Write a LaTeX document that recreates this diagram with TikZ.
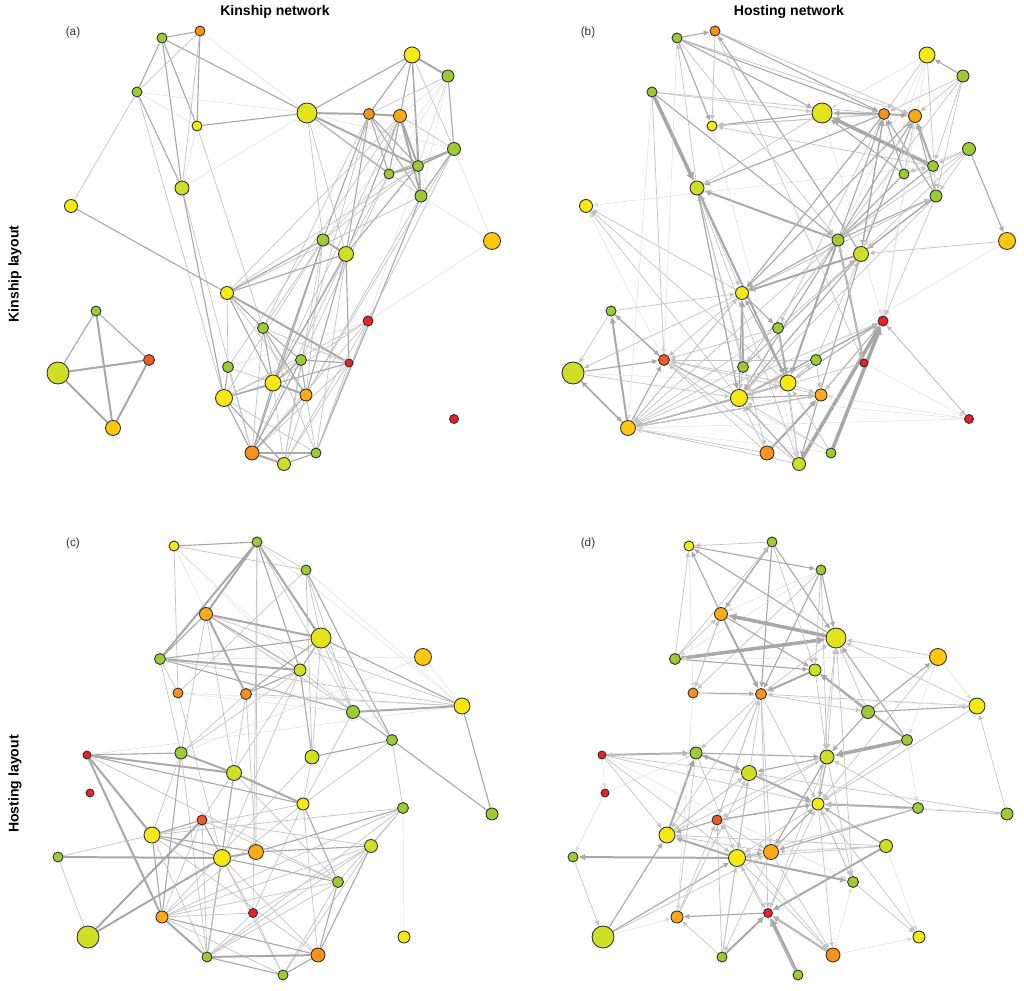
\documentclass[tikz,border=0pt]{standalone}
\usepackage{fontspec}
\setmainfont{Liberation Sans}
\usetikzlibrary{arrows.meta}
\pgfdeclarelayer{edges}
\pgfsetlayers{edges,main}

\definecolor{cGreen}{RGB}{155,204,52}
\definecolor{cLime}{RGB}{208,222,38}
\definecolor{cLimeY}{RGB}{226,228,28}
\definecolor{cYellow}{RGB}{246,232,20}
\definecolor{cGold}{RGB}{255,199,12}
\definecolor{cAmber}{RGB}{250,170,24}
\definecolor{cOrange}{RGB}{246,146,30}
\definecolor{cRedOr}{RGB}{240,90,36}
\definecolor{cRed}{RGB}{236,32,38}
\definecolor{cEdge}{RGB}{168,168,168}

% node lists: name/x/y/colour/radius (pixels)
\newcommand\kinlayout{1/162/38/cGreen/5, 2/200/31/cOrange/5, 3/137/92/cGreen/5,
  4/197/126/cYellow/5, 5/307/113/cLimeY/10, 6/369/114/cOrange/5.5, 7/400/116/cAmber/6.5,
  8/412/55/cYellow/8, 9/448/76/cGreen/6, 10/454/149/cGreen/6.5, 11/418/166/cGreen/5.5,
  12/389/174/cGreen/5, 13/421/196/cGreen/6, 14/182/188/cLime/7, 15/71/206/cYellow/6.5,
  16/492/241/cGold/8.5, 17/323/240/cGreen/6, 18/346/254/cLime/7.5, 19/227/293/cYellow/6.5,
  20/96/311/cGreen/5, 21/368/321/cRed/5, 22/263/328/cGreen/5.5, 23/149/360/cRedOr/5.5,
  24/58/373/cLime/11, 25/228/367/cGreen/5.5, 26/301/360/cGreen/5.5, 27/349/363/cRed/4,
  28/273/383/cYellow/8, 29/224/398/cYellow/8.5, 30/306/395/cAmber/6, 31/113/428/cGold/7.5,
  32/454/419/cRed/4.5, 33/252/453/cOrange/7, 34/284/464/cLime/6.5, 35/316/453/cGreen/5}
\newcommand\hostlayout{1/174/546/cYellow/5, 2/257/542/cGreen/5, 3/306/570/cGreen/5,
  4/206/614/cAmber/6.5, 5/321/638/cLimeY/10, 6/423/657/cGold/8.5, 7/160/659/cGreen/5.5,
  8/300/670/cLime/6, 9/178/693/cOrange/5, 10/246/694/cOrange/5.5, 11/353/712/cGreen/6.5,
  12/462/706/cYellow/8, 13/392/740/cGreen/5.5, 14/87/755/cRed/4, 15/181/753/cGreen/6,
  16/312/757/cLime/7, 17/234/773/cLime/7.5, 18/90/793/cRed/4, 19/303/804/cYellow/6,
  20/403/808/cGreen/5.5, 21/492/814/cGreen/6, 22/202/820/cRedOr/5, 23/152/835/cYellow/8,
  24/371/846/cLime/6.5, 25/256/852/cAmber/7.5, 26/222/858/cYellow/8.5, 27/58/857/cGreen/5,
  28/338/882/cGreen/5.5, 29/162/917/cAmber/6, 30/253/913/cRed/4.5, 31/88/937/cLime/11,
  32/404/937/cYellow/6, 33/207/957/cGreen/5, 34/318/955/cOrange/7, 35/283/975/cGreen/5}

% edge lists: from/to/weight
\newcommand\kinonkin{1/2/2, 1/3/2, 1/4/2, 1/14/2, 1/5/2, 2/3/1, 2/4/2, 2/5/0, 2/14/1, 3/4/0,
  3/5/0, 3/14/2, 3/15/1, 4/5/2, 4/14/0, 4/22/1, 14/5/0, 14/29/2, 14/33/1, 15/19/2, 5/6/3,
  6/7/3, 5/8/2, 5/11/3, 5/12/2, 5/17/1, 5/18/1, 5/13/1, 5/10/0, 8/9/3, 8/6/2, 8/7/2, 8/11/2,
  8/13/2, 8/10/1, 9/10/2, 9/6/1, 9/7/0, 9/12/0, 9/11/0, 9/13/0, 9/17/0, 7/11/3, 7/13/3,
  7/12/2, 7/10/1, 6/11/2, 6/13/2, 6/12/2, 10/11/3, 10/12/2, 10/16/0, 10/13/2, 11/12/3,
  11/13/2, 13/16/0, 6/17/2, 6/18/2, 6/22/1, 6/26/1, 7/18/2, 7/19/1, 7/25/1, 7/28/1, 11/17/1,
  11/18/2, 11/19/1, 12/17/1, 12/26/1, 12/28/1, 13/19/1, 13/35/2, 13/30/1, 10/21/1, 10/30/1,
  9/21/0, 16/21/0, 17/18/3, 17/19/2, 17/22/1, 17/28/2, 17/29/1, 17/33/2, 17/34/1, 17/30/1,
  18/19/2, 18/27/2, 18/28/2, 18/30/2, 18/33/1, 18/35/1, 19/22/2, 19/27/3, 19/28/2, 19/30/1,
  19/25/1, 21/29/1, 21/33/1, 21/34/1, 21/35/1, 21/28/1, 21/25/0, 20/24/2, 20/23/2, 20/31/3,
  24/23/3, 24/31/3, 23/31/3, 27/26/2, 27/29/2, 27/33/1, 27/34/1, 27/35/1, 27/22/1, 22/28/2,
  22/30/2, 22/35/1, 22/26/2, 22/33/1, 29/33/2, 29/34/2, 29/35/1, 29/28/2, 29/25/2, 29/26/1,
  25/33/1, 25/28/1, 33/34/3, 33/35/2, 34/35/2, 33/26/2, 33/28/2, 33/30/2, 26/28/2, 26/30/2,
  26/34/1, 28/30/3, 28/34/1, 30/34/1, 30/35/1, 3/29/1}
\newcommand\hostonkin{1/2/2, 1/4/2, 1/5/2, 1/6/2, 1/7/1, 14/1/1, 2/6/2, 2/7/1, 18/2/2, 3/14/4,
  3/5/1, 3/6/1, 3/17/2, 5/4/2, 6/4/1, 11/4/1, 6/5/3, 6/7/3, 11/5/4, 12/5/2, 8/6/1, 9/8/2,
  9/7/1, 9/6/1, 8/5/0, 10/16/2, 10/11/1, 10/13/1, 10/12/1, 8/13/1, 11/7/3, 12/6/2, 13/6/2,
  13/7/2, 12/7/1, 17/14/3, 6/14/2, 5/14/1, 28/14/2, 29/14/1, 17/6/2, 17/7/2, 18/6/2, 18/7/1,
  18/13/2, 17/13/2, 19/13/1, 29/15/1, 28/15/1, 23/15/0, 16/18/1, 20/19/1, 20/24/1, 20/23/2,
  23/20/2, 31/20/3, 24/31/2, 31/24/2, 24/23/2, 24/29/1, 24/28/0, 29/31/2, 28/31/2, 30/31/2,
  22/31/1, 19/31/1, 33/31/1, 34/31/1, 35/31/0, 32/31/0, 17/31/1, 31/23/2, 29/23/2, 19/23/1,
  3/23/1, 34/21/4, 35/21/4, 29/21/2, 28/21/2, 31/21/1, 17/27/3, 17/28/3, 17/19/2, 18/19/3,
  6/19/2, 7/19/2, 14/19/1, 29/19/2, 28/19/2, 25/19/3, 19/22/2, 22/28/3, 22/18/1, 26/30/1,
  26/18/1, 21/32/1, 32/21/1, 32/29/0, 33/29/1, 33/30/3, 34/29/2, 34/23/1, 35/29/1, 25/18/2,
  25/17/1, 18/29/2, 17/29/2, 21/29/2, 13/29/1, 1/17/1, 2/27/1, 5/21/0, 14/25/1, 14/33/1,
  14/34/1, 22/34/1, 18/34/2, 29/30/2, 30/21/2, 28/30/1, 29/28/1, 11/15/0, 4/34/0, 13/18/2,
  10/18/1, 7/18/2, 6/18/2, 12/17/2, 11/17/2, 6/22/1, 19/15/1, 19/24/1, 1/23/0, 3/31/0,
  28/26/1, 27/32/0, 8/17/0, 8/18/0, 9/17/1, 9/13/1, 9/11/1, 10/17/1, 12/11/1, 4/6/1, 2/4/1,
  14/28/3, 14/29/2, 33/23/1, 35/23/0, 30/23/1, 26/23/1, 22/23/1, 28/23/1, 31/19/1, 31/28/1,
  31/30/1, 31/25/1, 25/29/1, 26/29/1, 27/29/1, 21/28/1, 21/30/1, 32/30/0, 34/28/1, 35/28/1,
  17/25/1, 18/25/1, 16/29/0, 7/21/0, 8/21/0, 13/21/1, 27/17/1}
\newcommand\kinonhost{1/2/2, 1/3/1, 2/3/1, 1/9/1, 1/8/0, 1/11/0, 1/10/0, 2/4/3, 2/7/3, 2/5/3,
  2/8/2, 2/11/1, 2/12/0, 2/30/1, 2/25/1, 3/5/1, 3/9/1, 3/12/0, 3/11/1, 3/16/1, 3/13/2, 4/5/3,
  4/7/2, 4/8/2, 4/10/3, 4/11/1, 4/15/1, 4/17/1, 4/12/1, 5/7/2, 5/8/2, 5/10/2, 5/12/2, 5/16/1,
  5/13/1, 5/11/1, 6/7/0, 6/12/0, 6/15/0, 7/8/3, 7/11/2, 7/12/1, 7/15/1, 7/9/1, 8/10/2, 8/11/1,
  8/15/1, 8/16/2, 8/22/1, 8/26/1, 9/11/0, 9/12/0, 9/26/1, 10/12/1, 10/15/1, 10/17/1, 10/25/1,
  11/12/3, 11/13/2, 11/19/1, 12/21/2, 12/14/0, 13/16/2, 13/20/1, 13/21/2, 13/19/1, 14/15/2,
  14/17/3, 14/19/2, 14/23/3, 14/29/3, 14/28/1, 15/17/3, 15/29/2, 15/33/1, 15/23/1, 17/19/3,
  17/33/2, 17/28/1, 19/23/1, 19/34/1, 19/30/1, 19/29/1, 19/28/2, 20/23/1, 20/24/1, 20/28/1,
  20/32/0, 20/25/2, 20/33/1, 20/29/1, 22/23/2, 22/26/2, 22/31/3, 22/28/1, 22/29/1, 22/24/1,
  22/33/1, 23/25/2, 23/26/2, 23/29/2, 23/33/1, 23/34/1, 23/27/1, 24/25/2, 24/29/1, 24/33/1,
  24/34/2, 24/35/1, 24/30/1, 25/26/3, 26/31/3, 26/27/3, 26/28/2, 26/30/1, 26/33/1, 26/35/1,
  26/34/1, 27/31/1, 28/29/1, 28/33/1, 28/35/1, 28/34/2, 29/33/3, 29/34/2, 29/35/1, 29/30/1,
  30/33/1, 30/35/1, 33/34/3, 33/35/2, 34/35/2, 16/29/1, 16/19/1}
\newcommand\hostonhost{2/1/1, 1/3/2, 4/1/2, 7/1/1, 5/1/2, 4/2/2, 2/4/2, 2/10/2, 2/5/2, 7/2/1,
  3/4/0, 3/5/2, 3/10/2, 3/9/1, 3/7/0, 3/16/1, 5/4/4, 7/5/4, 4/10/3, 9/4/1, 7/4/1, 4/8/2,
  7/8/2, 8/10/3, 9/10/2, 10/5/1, 11/8/2, 11/6/2, 11/12/2, 6/5/1, 6/7/0, 13/8/3, 13/5/2,
  13/16/4, 12/10/1, 14/15/3, 14/18/0, 14/23/1, 14/17/1, 14/19/1, 14/26/1, 15/17/3, 17/15/2,
  16/17/2, 16/19/2, 17/19/3, 17/23/1, 20/19/3, 20/21/0, 20/25/2, 21/12/1, 21/17/1, 22/23/2,
  19/22/2, 26/27/3, 23/15/3, 24/30/3, 24/25/1, 24/32/0, 25/19/2, 25/16/1, 26/23/3, 26/25/2,
  26/28/3, 26/30/1, 27/31/1, 31/23/2, 31/26/2, 31/29/0, 31/25/1, 30/29/2, 33/29/1, 33/30/3,
  33/26/1, 33/22/1, 35/30/4, 34/30/3, 34/32/0, 34/22/1, 28/19/1, 28/5/1, 19/32/1, 28/32/1,
  24/19/2, 22/19/2, 13/19/1, 16/22/1, 15/16/2, 15/26/1, 15/29/1, 17/26/1, 23/25/1, 9/29/0,
  10/26/1, 10/30/1, 12/19/1, 8/16/1, 5/16/1, 16/25/2, 11/16/2, 20/16/1, 30/19/1, 29/17/1,
  22/10/1, 19/5/1, 6/19/1, 24/26/1, 24/23/1, 34/28/0, 13/20/0, 15/14/1, 18/27/0, 1/9/0,
  2/8/1, 3/8/1, 4/9/1, 9/12/0, 10/11/1, 10/15/1, 10/19/1, 10/22/1, 10/23/1, 10/25/1, 11/5/1,
  12/5/1, 6/12/0, 6/13/0, 16/28/1, 16/30/1, 19/26/1, 19/28/1, 19/34/1, 20/26/1, 21/19/1,
  23/16/1, 23/17/1, 25/34/1, 25/33/1, 26/34/1, 29/22/1, 30/34/1, 33/17/1, 35/26/1, 18/15/0,
  14/28/0, 22/25/1}

\tikzset{
  vtx/.style={circle, draw=black!82, line width=0.75pt, inner sep=0pt},
  ln0/.style={draw=cEdge!40, line width=0.4pt},
  ln1/.style={draw=cEdge!70, line width=0.6pt},
  ln2/.style={draw=cEdge, line width=0.95pt},
  ln3/.style={draw=cEdge, line width=1.7pt},
  ln4/.style={draw=cEdge, line width=3pt},
  tip/.style={-{Latex[length=4pt 1.1,width=3.4pt 1.4]}},
  heading/.style={font=\bfseries\fontsize{12}{14}\selectfont},
  panel/.style={font=\fontsize{10}{12}\selectfont, text=black!80}
}

\begin{document}
\begin{tikzpicture}[x=0.03cm, y=-0.03cm]
    \useasboundingbox (0,0) rectangle (1024,991);
    % Headings
    \node[heading] (kintitle) at (275,12) {Kinship network};
    \node[heading] (hosttitle) at (789,12) {Hosting network};
    \node[heading, rotate=90] (kinrow) at (15,274) {Kinship layout};
    \node[heading, rotate=90] (hostrow) at (15,784) {Hosting layout};
    \node[panel] (lbla) at (73,32) {(a)};
    \node[panel] (lblb) at (588,32) {(b)};
    \node[panel] (lblc) at (73,543) {(c)};
    \node[panel] (lbld) at (588,543) {(d)};
    % Nodes
    \foreach \n/\x/\y/\c/\r in \kinlayout {
        \node[vtx, fill=\c, minimum size=\r*0.06cm] (a\n) at (\x,\y) {};
        \node[vtx, fill=\c, minimum size=\r*0.06cm] (b\n) at (\x+515,\y) {};
    }
    \foreach \n/\x/\y/\c/\r in \hostlayout {
        \node[vtx, fill=\c, minimum size=\r*0.06cm] (c\n) at (\x,\y) {};
        \node[vtx, fill=\c, minimum size=\r*0.06cm] (d\n) at (\x+515,\y) {};
    }
    % Edges
    \begin{pgfonlayer}{edges}
    \foreach \s/\t/\w in \kinonkin {\draw[ln\w] (a\s) -- (a\t);}
    \foreach \s/\t/\w in \hostonkin {\draw[ln\w, tip] (b\s) -- (b\t);}
    \foreach \s/\t/\w in \kinonhost {\draw[ln\w] (c\s) -- (c\t);}
    \foreach \s/\t/\w in \hostonhost {\draw[ln\w, tip] (d\s) -- (d\t);}
    \end{pgfonlayer}
\end{tikzpicture}
\end{document}
